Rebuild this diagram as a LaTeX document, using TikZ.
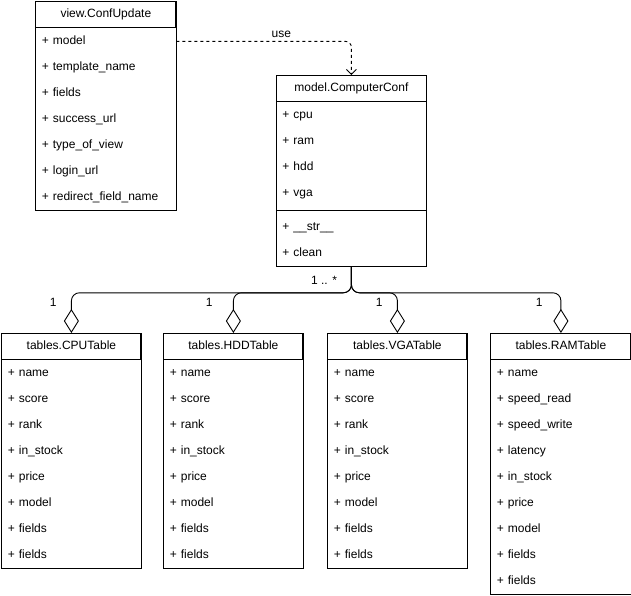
\documentclass[tikz,border=0pt]{standalone}
\usepackage{fontspec}
\setmainfont{Liberation Sans}
\usetikzlibrary{matrix,positioning,arrows.meta}
\tikzset{
umlclass/.style={
  matrix of nodes,
  draw,
  anchor=north west,
  inner sep=0pt,
  row sep=0pt,
  nodes={
    text width=#1,
    align=left,
    inner xsep=6pt,
    inner ysep=0pt,
    minimum height=26pt,
    text height=9pt,
    text depth=3pt
    },
  row 1/.style={nodes={draw,align=center}}
  },
aggr/.style={
  {Diamond[open,length=24pt,width=15pt]}-,
  rounded corners=8pt
  },
dep/.style={
  -{Straight Barb[length=5pt,width=10pt]},
  dash pattern=on 3pt off 3pt,
  rounded corners=6pt
  },
mult/.style={inner sep=0pt}
}

\begin{document}
\begin{tikzpicture}[x=1pt,y=-1pt,line width=0.9pt,font=\fontsize{12}{14}\selectfont]

\path[use as bounding box,fill=white] (0,0) rectangle (631,596);

\matrix[umlclass=128pt]
at (35,1)
(view)
{
view.ConfUpdate \\
+ model \\
+ template\_name \\
+ fields \\
+ success\_url \\
+ type\_of\_view \\
+ login\_url \\
+ redirect\_field\_name \\
};

\matrix[umlclass=138pt,nodes in empty cells,
  row 6/.style={nodes={minimum height=8pt,text height=0pt,text depth=0pt}}]
at (275.5,75)
(conf)
{
model.ComputerConf \\
+ cpu \\
+ ram \\
+ hdd \\
+ vga \\
\\
+ \_\_str\_\_ \\
+ clean \\
};

\matrix[umlclass=127pt]
at (1,333)
(cpu)
{
tables.CPUTable \\
+ name \\
+ score \\
+ rank \\
+ in\_stock \\
+ price \\
+ model \\
+ fields \\
+ fields \\
};

\matrix[umlclass=127pt]
at (163,333)
(hdd)
{
tables.HDDTable \\
+ name \\
+ score \\
+ rank \\
+ in\_stock \\
+ price \\
+ model \\
+ fields \\
+ fields \\
};

\matrix[umlclass=127pt]
at (327,333)
(vga)
{
tables.VGATable \\
+ name \\
+ score \\
+ rank \\
+ in\_stock \\
+ price \\
+ model \\
+ fields \\
+ fields \\
};

\matrix[umlclass=128pt]
at (490,333)
(ram)
{
tables.RAMTable \\
+ name \\
+ speed\_read \\
+ speed\_write \\
+ latency \\
+ in\_stock \\
+ price \\
+ model \\
+ fields \\
+ fields \\
};

\coordinate[below=26pt of conf.south] (hub);

\node[mult,below left=9pt and 14pt of conf.south] (many) {1 .. *};
\node[mult,above left=26pt and 14.5pt of cpu.north] (onecpu) {1};
\node[mult,above left=26pt and 20.5pt of hdd.north] (onehdd) {1};
\node[mult,above left=26pt and 14.5pt of vga.north] (onevga) {1};
\node[mult,above left=26pt and 18pt of ram.north] (oneram) {1};

\draw (conf-6-1.west) -- (conf-6-1.east);

\draw[dep] (view-2-1.east) -| node[pos=0.3,above] (use) {use} (conf.north);

\draw[aggr] (cpu.north) |- (hub) -- (conf.south);
\draw[aggr] (hdd.north) |- (hub) -- (conf.south);
\draw[aggr] (vga.north) |- (hub) -- (conf.south);
\draw[aggr] (ram.north) |- (hub) -- (conf.south);

\end{tikzpicture}
\end{document}
